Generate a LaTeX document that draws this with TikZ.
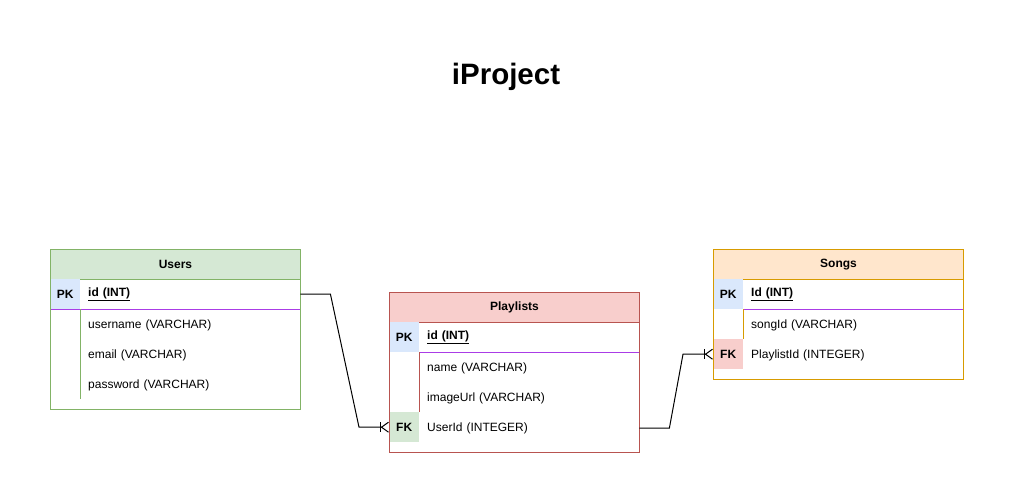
\documentclass[tikz,border=0pt]{standalone}
\usepackage{fontspec}
\setmainfont{Liberation Sans}
\usetikzlibrary{arrows.meta}
\usetikzlibrary{positioning}
\definecolor{usergreen}{HTML}{D5E8D4}
\definecolor{usergreenline}{HTML}{82B366}
\definecolor{listred}{HTML}{F8CECC}
\definecolor{listredline}{HTML}{B85450}
\definecolor{songorange}{HTML}{FFE6CC}
\definecolor{songorangeline}{HTML}{D79B00}
\definecolor{pkblue}{HTML}{DAE8FC}
\definecolor{keypurple}{RGB}{170,60,230}
\tikzstyle{tableline}=[line width=1pt]
\tikzstyle{keyline}=[draw=keypurple,line width=1pt]
\tikzstyle{header}=[anchor=north west,minimum width=250pt,minimum height=30pt,line width=1pt,font=\fontsize{12}{14}\selectfont\bfseries]
\tikzstyle{keycell}=[anchor=north west,minimum width=30pt,minimum height=30pt,inner sep=0pt,font=\fontsize{12}{14}\selectfont\bfseries]
\tikzstyle{rowtext}=[anchor=west,minimum height=30pt,text width=204pt,inner xsep=8pt,inner ysep=0pt,align=left,font=\fontsize{12}{14}\selectfont]
\tikzstyle{relation}=[draw=black,line width=1pt,-{Bar[width=10pt,sep=0pt]Straight Barb[reversed,length=7pt,width=10pt]}]

\begin{document}
\begin{tikzpicture}[x=1pt,y=-1pt]
  \useasboundingbox (0,0) rectangle (1014,503);
  \node[font=\fontsize{29.5}{34}\selectfont\bfseries] (title) at (506,77) {iProject};

  % Users
  \draw[tableline,fill=white,draw=usergreenline] (50,249) rectangle (300,409);
  \node[header,fill=usergreen,draw=usergreenline] (users) at (50,249) {Users};
  \node[keycell,fill=pkblue] (users-pk) at (50,279) {PK};
  \node[rowtext] (users-id) at (80,294) {\textbf{\underline{id (INT)}}};
  \node[rowtext] (users-name) at (80,325) {username (VARCHAR)};
  \node[rowtext] (users-email) at (80,355) {email (VARCHAR)};
  \node[rowtext] (users-pass) at (80,385) {password (VARCHAR)};
  \draw[keyline] (50,309) -- (300,309);
  \draw[tableline,usergreenline] (80,309) -- (80,399);
  \draw[tableline,usergreenline] (50,249) rectangle (300,409);

  % Playlists
  \draw[tableline,fill=white,draw=listredline] (389,292) rectangle (639,452);
  \node[header,fill=listred,draw=listredline] (playlists) at (389,292) {Playlists};
  \node[keycell,fill=pkblue] (pl-pk) at (389,322) {PK};
  \node[rowtext] (pl-id) at (419,337) {\textbf{\underline{id (INT)}}};
  \node[rowtext] (pl-name) at (419,368) {name (VARCHAR)};
  \node[rowtext] (pl-image) at (419,398) {imageUrl (VARCHAR)};
  \node[keycell,fill=usergreen] (pl-fk) at (389,412) {FK};
  \node[rowtext] (pl-userid) at (419,428) {UserId (INTEGER)};
  \draw[keyline] (419,352) -- (639,352);
  \draw[tableline,listredline] (419,352) -- (419,412);
  \draw[tableline,listredline] (389,292) rectangle (639,452);

  % Songs
  \draw[tableline,fill=white,draw=songorangeline] (713,249) rectangle (963,379);
  \node[header,fill=songorange,draw=songorangeline] (songs) at (713,249) {Songs};
  \node[keycell,fill=pkblue] (songs-pk) at (713,279) {PK};
  \node[rowtext] (songs-id) at (743,294) {\textbf{\underline{Id (INT)}}};
  \node[rowtext] (songs-songid) at (743,325) {songId (VARCHAR)};
  \node[keycell,fill=listred] (songs-fk) at (713,339) {FK};
  \node[rowtext] (songs-plid) at (743,355) {PlaylistId (INTEGER)};
  \draw[keyline] (743,309) -- (963,309);
  \draw[tableline,songorangeline] (743,309) -- (743,339);
  \draw[tableline,songorangeline] (713,249) rectangle (963,379);

  % relations
  \draw[relation] (users-id.east) -- ++(30,0) -- ([xshift=-30pt]pl-fk.west) -- (pl-fk.west);
  \draw[relation] (pl-userid.east) -- ++(30,0) -- ([xshift=-30pt]songs-fk.west) -- (songs-fk.west);
\end{tikzpicture}
\end{document}
